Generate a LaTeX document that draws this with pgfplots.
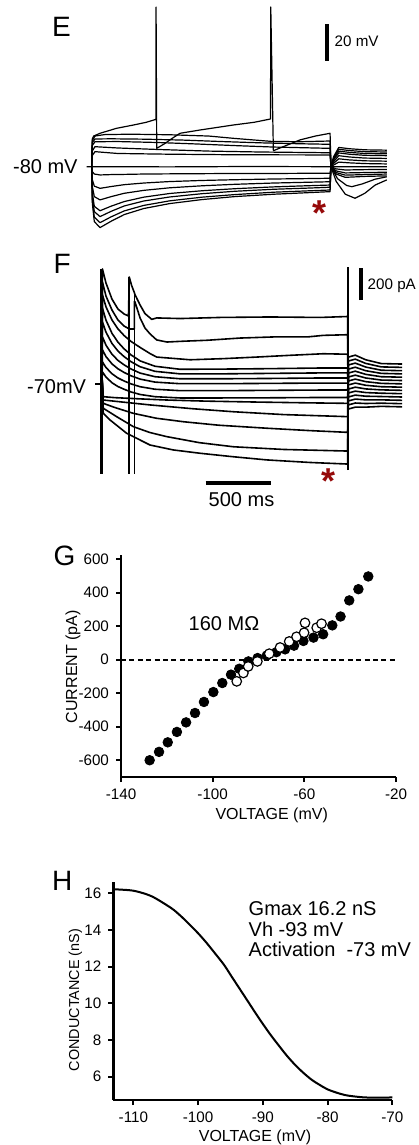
\documentclass[border=0pt]{standalone}
\usepackage{fontspec}
\setmainfont{Liberation Sans}
\usepackage{pgfplots}
\pgfplotsset{compat=1.18}
\definecolor{starred}{RGB}{150,10,10}
\tikzset{
  tr/.style={black, line width=0.6pt, line join=round},
  trf/.style={black, line width=0.8pt, line join=round},
  sbar/.style={black, line width=2pt},
  txt/.style={inner sep=0pt, anchor=base west},
}
\pgfplotsset{
  trace panel/.style={scale only axis, hide axis, clip=false, anchor=south west, width=209pt},
  graph panel/.style={scale only axis, anchor=south west, clip=false,
    axis x line=bottom, axis y line=left,
    axis line style={-, line width=1.3pt},
    tick align=outside, major tick length=2.5pt,
    tick style={black, line width=1pt},
    tick label style={font=\fontsize{7.6}{8}\selectfont},
    /pgf/number format/assume math mode=true},
}
\begin{document}
\begin{tikzpicture}[x=0.5pt,y=-0.5pt]
\useasboundingbox (0,0) rectangle (418,1145);

% ---------------- E: voltage traces (ms, mV)
\begin{axis}[trace panel, at={(0pt,-120pt)}, height=120pt,
  xmin=-705.2, xmax=2509.3, ymin=-119.95, ymax=10.84]
  \addplot[tr] coordinates {(0,-80)(4,-65)(15,-63.3)(64,-61.8)(190,-59.1)(320,-57.3)(420,-55.8)(494,-54.2)(495,7)(500,-70)(560,-67.5)(620,-64.5)(679,-61.8)(833,-60)(1087,-57.3)(1250,-55.8)(1375,-54)(1377,7)(1397,-71.3)(1473,-69.1)(1602,-65.4)(1720,-63.3)(1833,-61.8)(1840,-80)(1880,-88)(1950,-95)(2025,-97.2)(2100,-94.5)(2180,-90)(2269,-87.2)};
  \addplot[tr] coordinates {(0,-80)(4,-66)(25,-63.3)(100,-62.5)(300,-62.3)(600,-62.6)(900,-63.3)(1100,-64.6)(1380,-66.2)(1600,-66.4)(1833,-66)(1840,-80)(1890,-86.5)(1960,-90.2)(2000,-90.9)(2080,-89.4)(2180,-86.8)(2269,-85.5)};
  \addplot[tr] coordinates {(0,-80)(4,-67)(25,-64.9)(150,-64.8)(400,-65)(700,-65.5)(1000,-66.3)(1300,-67)(1600,-67.5)(1833,-67.8)(1840,-80)(1880,-84)(1950,-85.8)(2100,-85.3)(2269,-85)};
  \addplot[tr] coordinates {(0,-80)(4,-68.5)(25,-66.4)(200,-66.3)(500,-66.8)(800,-67.6)(1100,-68.5)(1400,-69.3)(1833,-70)(1840,-80)(1880,-83.2)(1950,-84.6)(2100,-84.3)(2269,-84)};
  \addplot[tr] coordinates {(0,-80)(4,-71.5)(25,-69.1)(200,-69.8)(500,-70.6)(900,-71.5)(1300,-72)(1833,-72.4)(1840,-80)(1880,-82.3)(1950,-83.4)(2100,-83.2)(2269,-83)};
  \addplot[tr] coordinates {(0,-80)(4,-74)(25,-71.8)(200,-72.8)(600,-73.2)(1100,-73.5)(1833,-73.6)(1840,-80)(1880,-81.2)(1950,-81.8)(2100,-81.6)(2269,-81.5)};
  \addplot[tr] coordinates {(-40,-80)(0,-80)(600,-80.1)(1200,-79.9)(1833,-80)(2269,-80)};
  \addplot[tr] coordinates {(0,-80)(5,-82.7)(20,-84)(64,-84.5)(150,-84.3)(250,-84.2)(400,-84)(600,-83.9)(850,-83.8)(1100,-83.7)(1400,-83.7)(1650,-83.6)(1833,-83.6)(1840,-80)(1860,-79.1)(1900,-77.5)(1980,-77.9)(2100,-78.3)(2269,-78.5)};
  \addplot[tr] coordinates {(0,-80)(5,-87.1)(20,-90.6)(64,-91.8)(150,-90.8)(250,-89.8)(400,-88.9)(600,-88.1)(850,-87.5)(1100,-87.1)(1400,-86.7)(1650,-86.5)(1833,-86.3)(1840,-80)(1860,-78.2)(1900,-75.7)(1980,-76.3)(2100,-76.8)(2269,-77)};
  \addplot[tr] coordinates {(0,-80)(5,-90.9)(20,-96.3)(64,-98.1)(150,-96.3)(250,-94.5)(400,-92.9)(600,-91.5)(850,-90.4)(1100,-89.6)(1400,-88.9)(1650,-88.5)(1833,-88.2)(1840,-80)(1860,-77.3)(1900,-74)(1980,-74.7)(2100,-75.3)(2269,-75.5)};
  \addplot[tr] coordinates {(0,-80)(5,-94.4)(20,-101.6)(64,-104)(150,-101.5)(250,-99)(400,-96.6)(600,-94.6)(850,-93.1)(1100,-92)(1400,-91)(1650,-90.4)(1833,-90)(1840,-80)(1860,-76.4)(1900,-72.5)(1980,-73.2)(2100,-73.8)(2269,-74)};
  \addplot[tr] coordinates {(0,-80)(5,-96.3)(20,-104.5)(64,-107.2)(150,-104.3)(250,-101.4)(400,-98.7)(600,-96.5)(850,-94.7)(1100,-93.4)(1400,-92.3)(1650,-91.7)(1833,-91.2)(1840,-80)(1860,-75.8)(1900,-71.5)(1980,-72.2)(2100,-72.8)(2269,-73)};
  \addplot[tr] coordinates {(0,-80)(5,-98.3)(20,-107.5)(64,-110.5)(150,-107.3)(250,-104.1)(400,-101.1)(600,-98.6)(850,-96.6)(1100,-95.2)(1400,-93.9)(1650,-93.2)(1833,-92.7)(1840,-80)(1860,-75.2)(1900,-70.5)(1980,-71.2)(2100,-71.8)(2269,-72)};
  \addplot[tr] coordinates {(0,-80)(5,-99.9)(20,-109.9)(64,-113.2)(150,-109.7)(250,-106.1)(400,-102.8)(600,-100.1)(850,-97.9)(1100,-96.3)(1400,-95)(1650,-94.2)(1833,-93.6)(1840,-80)(1860,-74.6)(1900,-69.5)(1980,-70.2)(2100,-70.8)(2269,-71)};
  % 20 mV scale bar
  \addplot[sbar] coordinates {(1808,-22.2)(1808,-2.2)};
\end{axis}

% ---------------- F: current traces (ms, pA)
\begin{axis}[trace panel, at={(0pt,-260pt)}, height=137.5pt,
  xmin=-782, xmax=2432.3, ymin=-860.1, ymax=875.2]
  \addplot[trf] coordinates {(0,0)(6,724)(33,635)(79,534)(125,471)(172,440)(206,427)(212,673)(230,620)(251,575)(256,562)(295,497)(333,442)(385,406)(423,415)(603,411)(910,418)(1296,421)(1681,418)(1891,424)(1897,-160)(1950,-148)(2030,-148)(2150,-143)(2310,-146)};
  \addplot[trf] coordinates {(0,0)(6,642)(33,553)(79,465)(125,402)(172,364)(212,345)(251,345)(252,520)(256,516)(295,415)(333,351)(372,314)(423,276)(502,263)(626,268)(810,274)(1064,288)(1319,295)(1581,295)(1704,305)(1891,309)(1897,-134)(1950,-122)(2030,-125)(2150,-123)(2310,-126)};
  \addplot[trf] coordinates {(0,0)(6,560)(33,485)(79,402)(125,346)(172,304)(225,267)(295,229)(372,190)(423,168)(680,151)(935,158)(1190,168)(1447,179)(1704,189)(1891,186)(1897,-109)(1950,-97)(2030,-102)(2150,-102)(2310,-105)};
  \addplot[trf] coordinates {(0,0)(6,477)(33,401)(79,318)(125,262)(172,220)(225,182)(295,144)(410,110)(603,91)(910,92)(1296,95)(1681,99)(1891,99)(1897,-84)(1950,-72)(2030,-79)(2150,-81)(2310,-84)};
  \addplot[trf] coordinates {(0,0)(6,389)(33,325)(79,254)(125,206)(172,171)(225,139)(295,107)(410,78)(603,62)(910,62)(1296,65)(1681,68)(1891,68)(1897,-59)(1950,-47)(2030,-56)(2150,-60)(2310,-63)};
  \addplot[trf] coordinates {(0,0)(6,295)(33,243)(79,186)(125,147)(172,119)(225,93)(295,67)(410,44)(603,31)(910,31)(1296,33)(1681,36)(1891,36)(1897,-34)(1950,-22)(2030,-33)(2150,-39)(2310,-42)};
  \addplot[trf] coordinates {(0,0)(6,213)(33,171)(79,125)(125,94)(172,71)(225,50)(295,29)(410,10)(603,0)(910,0)(1296,2)(1681,4)(1891,4)(1897,-8)(1950,4)(2030,-10)(2150,-19)(2310,-22)};
  \addplot[trf] coordinates {(0,0)(6,137)(33,102)(79,63)(125,36)(172,17)(225,-1)(295,-19)(410,-35)(603,-44)(910,-44)(1296,-42)(1681,-40)(1891,-40)(1897,17)(1950,29)(2030,13)(2150,2)(2310,-1)};
  \addplot[trf] coordinates {(0,0)(6,74)(33,42)(79,6)(125,-18)(172,-35)(225,-52)(295,-68)(410,-82)(603,-90)(910,-90)(1296,-89)(1681,-87)(1891,-87)(1897,42)(1950,54)(2030,36)(2150,23)(2310,20)};
  \addplot[trf] coordinates {(0,0)(4,25)(12,-82)(100,-88)(300,-96)(500,-103)(800,-110)(1200,-116)(1600,-121)(1891,-124)(1897,67)(1950,79)(2030,59)(2150,44)(2310,41)};
  \addplot[trf] coordinates {(0,0)(4,20)(12,-103)(150,-115)(372,-134)(700,-158)(1013,-177)(1400,-195)(1891,-208)(1897,92)(1950,104)(2030,82)(2150,65)(2310,62)};
  \addplot[trf] coordinates {(0,0)(4,15)(12,-124)(100,-150)(243,-187)(420,-218)(628,-240)(900,-262)(1270,-281)(1600,-296)(1891,-307)(1897,118)(1950,130)(2030,105)(2150,85)(2310,82)};
  \addplot[trf] coordinates {(0,0)(4,10)(12,-155)(115,-208)(243,-271)(370,-308)(500,-334)(750,-372)(1013,-398)(1400,-415)(1891,-425)(1897,143)(1950,155)(2030,128)(2150,106)(2310,103)};
  \addplot[trf] coordinates {(0,0)(4,5)(12,-187)(64,-229)(192,-313)(372,-387)(550,-418)(757,-439)(1000,-460)(1270,-481)(1600,-497)(1891,-507)(1897,168)(1950,180)(2030,151)(2150,127)(2310,124)};
  % capacitive transients
  \addplot[black, line width=1.3pt] coordinates {(0,-568)(0,726)};
  \addplot[black, line width=0.8pt] coordinates {(212,-568)(212,673)};
  \addplot[black, line width=0.8pt] coordinates {(251,-568)(251,575)};
  \addplot[black, line width=1pt] coordinates {(1891,-545)(1891,736)};
  % holding level tick and scale bars
  \addplot[black, line width=1pt] coordinates {(-51,0)(0,0)};
  \addplot[sbar] coordinates {(1992,528)(1992,728)};
  \addplot[sbar] coordinates {(800,-628)(1300,-628)};
\end{axis}

% ---------------- G: I-V relation
\begin{axis}[graph panel, at={(60.5pt,-388.5pt)}, width=137.5pt, height=111pt,
  xmin=-140, xmax=-20, ymin=-700, ymax=625,
  xtick={-140,-100,-60,-20}, ytick={-600,-400,-200,0,200,400,600}]
  \addplot[black, line width=0.8pt, dash pattern=on 2.5pt off 1.7pt] coordinates {(-140,0)(-20,0)};
  \addplot[only marks, mark=*, mark size=2.4pt, mark options={fill=black, draw=black}] coordinates {
    (-127.5,-600)(-123.4,-550)(-119.6,-493)(-115.6,-431)(-111.6,-374)(-107.7,-318)
    (-103.8,-252)(-99.7,-193)(-95.8,-139)(-92.0,-89)(-88.4,-54)(-84.4,-10)(-80.4,10)
    (-76.4,25)(-72.2,45)(-68.4,62)(-64.5,84)(-60.4,112)(-56.0,132)(-51.8,152)
    (-47.8,205)(-44.2,258)(-40.4,354)(-36.4,421)(-32.1,497)};
  \addplot[only marks, mark=*, mark size=2.4pt, mark options={fill=white, draw=black, line width=0.6pt}] coordinates {
    (-89.5,-129)(-86.6,-79)(-84.5,-40)(-80.5,-10)(-75.3,36)(-70.6,73)(-66.6,109)
    (-63.4,137)(-60.1,161)(-59.7,220)(-54.6,191)(-52.5,215)};
\end{axis}

% ---------------- H: conductance
\begin{axis}[graph panel, at={(56.65pt,-550pt)}, width=139.5pt, height=109.15pt,
  xmin=-113.1, xmax=-70, ymin=4.73, ymax=16.63,
  xtick={-110,-100,-90,-80,-70}, ytick={6,8,10,12,14,16}]
  \addplot[black, line width=1pt, smooth] coordinates {
    (-113.1,16.22)(-112,16.2)(-110,16.14)(-108,15.95)(-106.6,15.73)(-104.1,15.18)
    (-102.8,14.8)(-101.5,14.36)(-100,13.82)(-98.7,13.3)(-97.4,12.73)(-96,12.1)
    (-94.8,11.45)(-93.5,10.75)(-92.2,10.05)(-91,9.4)(-90,8.88)(-88.8,8.28)(-87.6,7.73)
    (-86.3,7.15)(-85,6.64)(-83.7,6.2)(-82.4,5.82)(-81.2,5.55)(-80,5.31)(-78.6,5.13)
    (-77.3,5.0)(-76,4.93)(-74.2,4.87)(-72,4.86)(-70,4.87)};
\end{axis}

% ---------------- text
\begin{scope}[every node/.style={txt}]
  \node[font=\fontsize{14}{14}\selectfont] at (51.7,36.7) {E};
  \node[font=\fontsize{14}{14}\selectfont] at (53.3,273.3) {F};
  \node[font=\fontsize{14}{14}\selectfont] at (53.3,565) {G};
  \node[font=\fontsize{14}{14}\selectfont] at (51.7,890) {H};
  \node[font=\fontsize{10}{10}\selectfont] at (12.7,173.3) {-80 mV};
  \node[font=\fontsize{7.6}{8}\selectfont] at (334.3,46.7) {20 mV};
  \node[font=\fontsize{10}{10}\selectfont] at (26.7,393.3) {-70mV};
  \node[font=\fontsize{7.6}{8}\selectfont] at (367.3,289) {200 pA};
  \node[font=\fontsize{10}{10}\selectfont] at (208.3,506.7) {500 ms};
  \node[font=\fontsize{10}{10}\selectfont] at (188.3,630) {160 MΩ};
  \node[font=\fontsize{10}{10}\selectfont] at (248.3,915) {Gmax 16.2 nS};
  \node[font=\fontsize{10}{10}\selectfont] at (248.3,936.7) {Vh -93 mV};
  \node[font=\fontsize{10}{10}\selectfont] at (248.3,956) {Activation\ \ -73 mV};
  \node[font=\fontsize{8}{8}\selectfont, anchor=base] at (271.7,819.3) {VOLTAGE (mV)};
  \node[font=\fontsize{8}{8}\selectfont, anchor=base] at (255,1141.5) {VOLTAGE (mV)};
  \node[font=\fontsize{8}{8}\selectfont, anchor=base, rotate=90] at (77,666.7) {CURRENT (pA)};
  \node[font=\fontsize{7.2}{8}\selectfont, anchor=base, rotate=90] at (79,1000) {CONDUCTANCE (nS)};
  \node[anchor=center, text=starred, font=\bfseries\fontsize{18}{18}\selectfont] at (320,213) {*};
  \node[anchor=center, text=starred, font=\bfseries\fontsize{18}{18}\selectfont] at (329,481) {*};
\end{scope}
\end{tikzpicture}
\end{document}
